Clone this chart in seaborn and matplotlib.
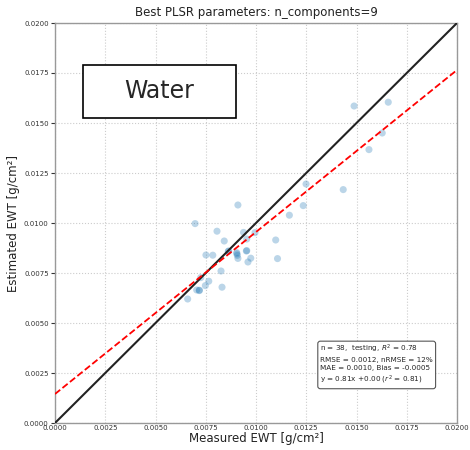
import numpy as np
import pandas as pd
import matplotlib
matplotlib.use("Agg")
import matplotlib.pyplot as plt
import seaborn as sns
from matplotlib.ticker import FormatStrFormatter, MultipleLocator
from matplotlib.patches import Rectangle

measured = [0.00910, 0.00697, 0.00806, 0.00938, 0.00995, 0.00842, 0.00954, 0.01098,
            0.01249, 0.01235, 0.01166, 0.00751, 0.00785, 0.00864, 0.00904, 0.00907,
            0.00910, 0.00954, 0.00974, 0.00960, 0.01107, 0.00826, 0.00725, 0.00765,
            0.00748, 0.00705, 0.00718, 0.00831, 0.00660, 0.01488, 0.01658, 0.01628,
            0.01562, 0.01434, 0.00905, 0.00952, 0.00718, 0.00862]
estimated = [0.01090, 0.00997, 0.00959, 0.00953, 0.00952, 0.00910, 0.00920, 0.00915,
             0.01195, 0.01087, 0.01039, 0.00840, 0.00839, 0.00860, 0.00852, 0.00838,
             0.00823, 0.00862, 0.00824, 0.00805, 0.00822, 0.00760, 0.00727, 0.00709,
             0.00687, 0.00665, 0.00662, 0.00679, 0.00620, 0.01585, 0.01604, 0.01450,
             0.01367, 0.01167, 0.00846, 0.00860, 0.00664, 0.00858]
fit_slope = 0.81
fit_intercept = 0.00145
axis_limits = [0.0, 0.02]

title = "Best PLSR parameters: n_components=9"
xlabel = "Measured EWT [g/cm²]"
ylabel = "Estimated EWT [g/cm²]"
label_text = "Water"
stats_text = ("n = 38,  testing, $R^2$ = 0.78\n"
              "RMSE = 0.0012, nRMSE = 12%\n"
              "MAE = 0.0010, Bias = -0.0005\n"
              "y = 0.81x +0.00 ($r^2$ = 0.81)")

df = pd.DataFrame({"measured": measured, "estimated": estimated})

sns.set_theme(style="whitegrid")
plt.rcParams["font.family"] = ["DejaVu Sans"]

fig = plt.figure(figsize=(4.7, 4.5), dpi=100)
ax = fig.add_axes([55/470, 27/450, 402/470, 400/450])

sns.scatterplot(data=df, x="measured", y="estimated", ax=ax, color="#1f77b4",
                alpha=0.3, s=26, edgecolor="none", zorder=3)

xs = np.array(axis_limits)
sns.lineplot(x=xs, y=xs, ax=ax, color="#222222", lw=1.5, zorder=4)
sns.lineplot(x=xs, y=fit_slope * xs + fit_intercept, ax=ax, color="red",
             lw=1.3, linestyle="--", zorder=5)

ax.set_xlim(axis_limits)
ax.set_ylim(axis_limits)
ax.xaxis.set_major_locator(MultipleLocator(0.0025))
ax.yaxis.set_major_locator(MultipleLocator(0.0025))
ax.xaxis.set_major_formatter(FormatStrFormatter("%.4f"))
ax.yaxis.set_major_formatter(FormatStrFormatter("%.4f"))
ax.tick_params(axis="both", labelsize=5, colors="#333333")
ax.tick_params(axis="y", length=3, width=0.8, pad=1.5, left=True)
ax.tick_params(axis="x", length=0, pad=1.5, bottom=True)
ax.grid(True, color="#cccccc", linestyle=":", linewidth=0.8)
for s in ax.spines.values():
    s.set_color("#999999")
    s.set_linewidth(1.0)

ax.set_title(title, fontsize=8.5, pad=5, color="#222222")
ax.set_xlabel(xlabel, fontsize=8.5, labelpad=0.5, color="#222222")
ax.set_ylabel(ylabel, fontsize=8.5, labelpad=3, color="#222222")

ax.add_patch(Rectangle((0.0697, 0.7625), 0.3803, 0.1325, transform=ax.transAxes,
                       facecolor="white", edgecolor="black", linewidth=1.2, zorder=6))
ax.text(0.26, 0.83, label_text, transform=ax.transAxes, fontsize=17,
        ha="center", va="center", zorder=7)

ax.text(0.66, 0.092, stats_text, transform=ax.transAxes, fontsize=5.2,
        ha="left", va="bottom", linespacing=1.35, zorder=6,
        bbox=dict(boxstyle="round,pad=0.35", facecolor="white", edgecolor="#555555", linewidth=0.8))

fig.savefig("out.png", dpi=100)
